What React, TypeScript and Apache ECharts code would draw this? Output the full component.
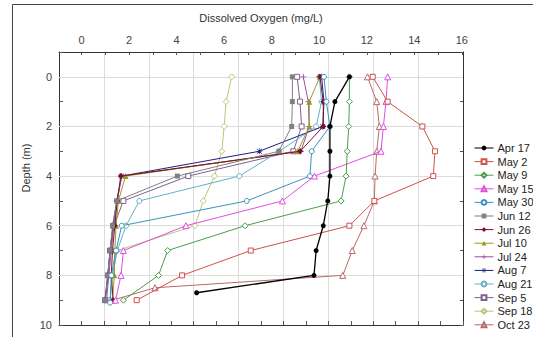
import React, { useEffect, useRef } from "react";
import * as echarts from "echarts";

const seriesNames = ["Apr 17", "May 2", "May 9", "May 15", "May 30", "Jun 12", "Jun 26", "Jul 10", "Jul 24", "Aug 7", "Aug 21", "Sep 5", "Sep 18", "Oct 23"];

const depths = [0, 1, 2, 3, 4, 5, 6, 7, 8, 9];
const apr17Depths = [0, 1, 2, 3, 4, 5, 6, 7, 8, 8.7];
const may30Depths = [0, 1, 2, 3, 4, 5, 6, 7, 8, 9.1];
const oct23Depths = [0, 1, 2, 3, 4, 5, 6, 7, 8, 8.5, 9];

const apr17 = [11.27, 10.66, 10.45, 10.45, 10.45, 10.36, 10.17, 9.87, 9.78, 4.84];
const may2 = [12.25, 12.88, 14.34, 14.87, 14.8, 12.32, 11.27, 7.12, 4.23, 2.32];
const may9 = [11.27, 11.27, 11.24, 11.18, 11.13, 10.92, 6.88, 3.62, 3.24, 1.76];
const may15 = [12.88, 12.81, 12.7, 12.6, 9.8, 8.45, 4.39, 1.76, 1.66, 1.43];
const may30 = [10.2, 10.3, 10.45, 9.68, 9.61, 6.95, 1.69, 1.45, 1.25, 1.2];
const jun12 = [8.87, 8.87, 8.84, 8.3, 4.03, 1.48, 1.3, 1.2, 1.1, 1.0];
const jun26 = [10.03, 10.17, 10.17, 9.2, 1.65, 1.5, 1.4, 1.3, 1.25, 1.33];
const jul10 = [10.03, 9.58, 9.58, 9.1, 1.85, 1.55, 1.45, 1.4, 1.38, 1.3];
const jul24 = [9.33, 9.54, 9.58, 9.23, 1.69, 1.5, 1.35, 1.25, 1.15, 1.05];
const aug7 = [10.1, 10.2, 10.15, 7.48, 1.69, 1.48, 1.32, 1.2, 1.1, 0.98];
const aug21 = [10.0, 10.1, 9.87, 8.32, 6.64, 2.43, 1.87, 1.5, 1.3, 1.2];
const sep5 = [9.07, 9.19, 9.26, 8.91, 4.49, 1.76, 1.36, 1.2, 1.12, 1.0];
const sep18 = [6.32, 6.08, 6.0, 5.9, 5.59, 5.12, 4.77, 1.5, 1.3, 1.2];
const oct23 = [12.03, 12.42, 12.53, 12.42, 12.35, 12.32, 11.88, 11.39, 10.99, 3.09, 1.3];

const xTickLabels = [0, 2, 4, 6, 8, 10, 12, 14, 16];
const xTickMarks = [0, 1, 2, 3, 4, 5, 6, 7, 8, 9, 10, 11, 12, 13, 14, 15, 16];
const yGridLines = [0, 2, 4, 6, 8];

const PLUS = "path://M4.3,0H5.7V4.3H10V5.7H5.7V10H4.3V5.7H0V4.3H4.3Z";
const STAR = "path://M4.5,0h1v10h-1z M0,4.5h10v1h-10z M1.2,0.5l8.3,8.3l-0.7,0.7l-8.3,-8.3z M8.8,0.5l0.7,0.7l-8.3,8.3l-0.7,-0.7z";

type Style = { color: string; symbol: string; open: boolean; size: number };
const styles: Style[] = [
  { color: "#000000", symbol: "circle", open: false, size: 5 },
  { color: "#d0504a", symbol: "rect", open: true, size: 5 },
  { color: "#4a9e4a", symbol: "diamond", open: true, size: 6 },
  { color: "#dd50dd", symbol: "triangle", open: true, size: 6 },
  { color: "#3c90c0", symbol: "circle", open: true, size: 5 },
  { color: "#808080", symbol: "rect", open: false, size: 5 },
  { color: "#7a0f2a", symbol: "diamond", open: false, size: 6 },
  { color: "#9a9a22", symbol: "triangle", open: false, size: 6 },
  { color: "#a050a0", symbol: PLUS, open: false, size: 6 },
  { color: "#1e1e80", symbol: STAR, open: false, size: 6 },
  { color: "#66b0c8", symbol: "circle", open: true, size: 5 },
  { color: "#806090", symbol: "rect", open: true, size: 5 },
  { color: "#b8c878", symbol: "diamond", open: true, size: 6 },
  { color: "#b86a6a", symbol: "triangle", open: true, size: 6 },
];

const valuesList = [apr17, may2, may9, may15, may30, jun12, jun26, jul10, jul24, aug7, aug21, sep5, sep18, oct23];
const depthList = [apr17Depths, depths, depths, depths, may30Depths, depths, depths, depths, depths, depths, depths, depths, depths, oct23Depths];

export default function App() {
  const ref = useRef<HTMLDivElement>(null);
  useEffect(() => {
    if (!ref.current) return;
    const chart = echarts.init(ref.current, undefined, { renderer: "svg" });
    const font = "'Liberation Sans', Arial, sans-serif";
    const series: any[] = [
      {
        type: "line",
        name: "_grid",
        data: [],
        xAxisIndex: 0,
        yAxisIndex: 0,
        silent: true,
        markLine: {
          silent: true,
          symbol: "none",
          label: { show: false },
          lineStyle: { color: "#dcdcdc", width: 1, type: "solid" },
          data: yGridLines.map((v) => ({ yAxis: v })),
        },
      },
    ];
    seriesNames.forEach((name, i) => {
      const st = styles[i];
      const vals = valuesList[i];
      const ds = depthList[i];
      series.push({
        type: "line",
        name,
        xAxisIndex: 0,
        yAxisIndex: 0,
        data: vals.map((v, k) => [v, ds[k]]),
        symbol: st.symbol,
        symbolSize: st.size,
        showAllSymbol: true,
        lineStyle: { color: st.color, width: i === 0 ? 1.3 : 1 },
        itemStyle: st.open
          ? { color: "#ffffff", borderColor: st.color, borderWidth: 1 }
          : { color: st.color, borderColor: st.color, borderWidth: 0 },
        z: 20 - i,
      });
    });
    chart.setOption({
      animation: false,
      backgroundColor: "#ffffff",
      textStyle: { fontFamily: font },
      grid: { left: 59, top: 52, width: 404, height: 273, containLabel: false },
      legend: {
        orient: "vertical",
        left: 469,
        top: 137,
        data: seriesNames,
        itemWidth: 19,
        itemHeight: 6,
        itemGap: 1.6,
        lineStyle: { width: 1 },
        textStyle: { fontSize: 11, color: "#222", lineHeight: 12, fontFamily: font, padding: [0, 0, 0, -1] },
      },
      xAxis: [
        {
          type: "value",
          position: "top",
          min: -0.95,
          max: 16.05,
          axisLine: { show: true, onZero: false, lineStyle: { color: "#333", width: 1 } },
          axisTick: { show: true, inside: true, length: 3, customValues: xTickMarks, lineStyle: { color: "#555" } },
          axisLabel: { show: true, customValues: xTickLabels, fontSize: 11, color: "#444", margin: 7, fontFamily: font },
          splitLine: { show: false },
        },
        {
          type: "value",
          position: "bottom",
          min: 0,
          max: 9,
          interval: 1,
          axisLine: { show: true, onZero: false, lineStyle: { color: "#333", width: 1 } },
          axisTick: { show: true, inside: true, length: 4, lineStyle: { color: "#555" } },
          minorTick: { show: true, splitNumber: 2, length: 4, lineStyle: { color: "#555" } },
          axisLabel: { show: false },
          splitLine: { show: true, lineStyle: { color: "#dcdcdc", width: 1 } },
        },
      ],
      yAxis: [
        {
          type: "value",
          inverse: true,
          min: -1,
          max: 10,
          interval: 1,
          axisLine: { show: true, onZero: false, lineStyle: { color: "#333", width: 1 } },
          axisTick: { show: true, inside: true, length: 4, lineStyle: { color: "#555" } },
          axisLabel: {
            fontSize: 11,
            color: "#444",
            margin: 7,
            fontFamily: font,
            formatter: (v: number) => (v >= 0 && v % 2 === 0 ? String(v) : ""),
          },
          splitLine: { show: false },
        },
        {
          type: "value",
          position: "right",
          inverse: true,
          min: -1,
          max: 10,
          interval: 1,
          axisLine: { show: true, onZero: false, lineStyle: { color: "#333", width: 1 } },
          axisTick: { show: true, inside: true, length: 3, lineStyle: { color: "#555" } },
          axisLabel: { show: false },
          splitLine: { show: false },
        },
      ],
      graphic: [
        {
          type: "rect",
          silent: true,
          shape: { x: 12.5, y: 4.5, width: 600, height: 400 },
          style: { fill: "none", stroke: "#444", lineWidth: 1 },
        },
        {
          type: "text",
          silent: true,
          x: 261,
          y: 18,
          style: { text: "Dissolved Oxygen (mg/L)", fontSize: 11, fill: "#333", textAlign: "center", textVerticalAlign: "middle", fontFamily: font },
        },
        {
          type: "text",
          silent: true,
          x: 26,
          y: 168,
          rotation: Math.PI / 2,
          style: { text: "Depth (m)", fontSize: 11, fill: "#333", textAlign: "center", textVerticalAlign: "middle", fontFamily: font },
        },
      ],
      series,
    });
    return () => chart.dispose();
  }, []);
  return <div ref={ref} style={{ position: "fixed", left: 0, top: 0, width: 533, height: 337, background: "#fff" }} />;
}
